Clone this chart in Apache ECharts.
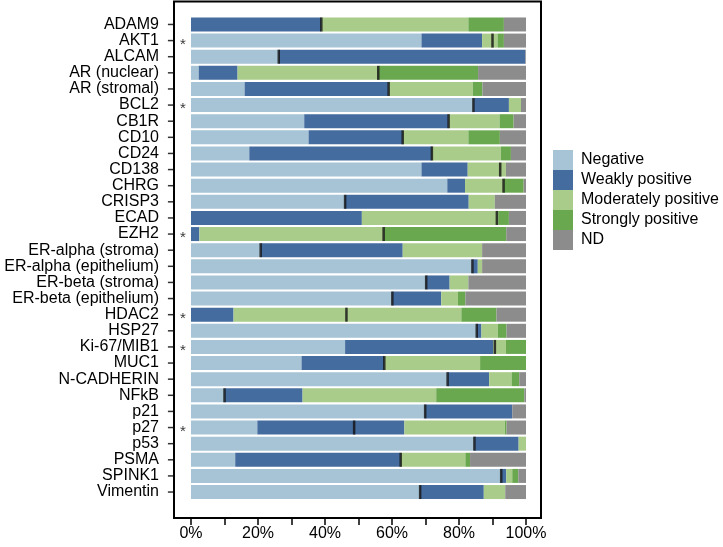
<!DOCTYPE html>
<html>
<head>
<meta charset="utf-8">
<script src="https://cdn.jsdelivr.net/npm/echarts@6/dist/echarts.min.js"></script>
<style>html,body{margin:0;padding:0;background:#fff}#c{width:723px;height:547px}</style>
</head>
<body>
<div id="c"></div>
<script>
var categories = ['ADAM9','AKT1','ALCAM','AR (nuclear)','AR (stromal)','BCL2','CB1R','CD10','CD24','CD138','CHRG','CRISP3','ECAD','EZH2','ER-alpha (stroma)','ER-alpha (epithelium)','ER-beta (stroma)','ER-beta (epithelium)','HDAC2','HSP27','Ki-67/MIB1','MUC1','N-CADHERIN','NFkB','p21','p27','p53','PSMA','SPINK1','Vimentin'];
var negative   = [0,68.8,26.2,2.3,16.0,84.3,33.8,35.1,17.4,68.8,76.5,46.0,0,0,20.8,84.0,70.2,60.1,0,85.3,46.0,33.0,76.6,10.0,69.9,19.8,84.6,13.2,92.6,68.4];
var weakly     = [38.9,18.1,73.6,11.6,43.0,10.6,43.1,28.1,54.5,13.8,5.3,36.9,51.0,2.5,42.4,1.6,7.0,14.6,12.7,1.4,44.2,24.7,12.4,23.3,26.0,43.9,13.2,49.4,1.5,19.0];
var moderately = [43.9,4.6,0,42.0,25.1,3.6,15.2,19.6,20.6,11.4,11.6,7.8,40.7,55.0,23.7,1.3,5.6,5.0,68.0,4.9,3.8,28.6,6.7,39.9,0,30.0,2.2,19.3,1.8,6.4];
var strongly   = [10.6,1.9,0,29.8,2.9,0,4.2,9.4,3.0,0,5.9,0,3.2,36.6,0,0,0,2.2,10.5,2.6,6.0,13.7,2.3,26.3,0,0.5,0,1.4,1.8,0];
var nd         = [6.6,6.6,0.2,14.3,13.0,1.5,3.7,7.8,4.5,6.0,0.7,9.3,5.1,5.9,13.1,13.1,17.2,18.1,8.8,5.8,0,0,2.0,0.5,4.1,5.8,0,16.7,2.3,6.2];
var markers    = [38.9,90.0,26.2,55.9,59.0,84.3,76.9,63.2,71.9,92.3,93.3,46.0,91.3,57.5,20.8,84.0,70.2,60.1,46.4,85.3,90.7,57.7,76.6,10.0,69.9,48.7,84.6,62.6,92.6,68.4];
var starred    = ['AKT1','BCL2','EZH2','HDAC2','Ki-67/MIB1','p27'];
var seriesNames = ['Negative','Weakly positive','Moderately positive','Strongly positive','ND'];
var seriesValues = [negative, weakly, moderately, strongly, nd];
var colors = ['#a6c4d5','#456c9f','#a9cc8a','#6aa84f','#8c8c8c'];

var font = 'Liberation Sans, Arial, Helvetica, sans-serif';
var chart = echarts.init(document.getElementById('c'));
var series = seriesNames.map(function (n, i) {
  return {
    name: n, type: 'bar', stack: 'total', barWidth: 14,
    itemStyle: { color: colors[i] },
    data: seriesValues[i], silent: true
  };
});
series.push({
  name: 'marker', type: 'scatter', symbol: 'rect', symbolSize: [2.5, 14],
  itemStyle: { color: '#111' }, z: 5, silent: true,
  data: categories.map(function (c, i) { return [markers[i], c]; })
});
series.push({
  name: 'star', type: 'scatter', symbolSize: 1, clip: false, itemStyle: { color: 'rgba(0,0,0,0)' }, z: 5, silent: true,
  label: { show: true, position: 'inside', formatter: '*', fontSize: 15, color: '#000', fontFamily: font, offset: [0, 4] },
  data: starred.map(function (c) { return [-2.4, c]; })
});
// y-axis tick marks just outside the left frame, placed through the axis scales
series.push({
  name: 'ytick', type: 'scatter', symbol: 'rect', symbolSize: [6, 1.5], clip: false,
  itemStyle: { color: '#000' }, z: 11, silent: true,
  data: categories.map(function (c) { return [-6.0, c]; })
});
chart.setOption({
  animation: false,
  textStyle: { fontFamily: font },
  grid: { left: 191, right: 197, top: 16.4, bottom: 46.9 },
  legend: {
    data: seriesNames, orient: 'vertical', left: 548, top: 145,
    itemWidth: 20, itemHeight: 20, itemGap: 0, icon: 'rect',
    textStyle: { fontSize: 16, color: '#000', fontFamily: font, padding: [0, 0, 0, 3] }
  },
  xAxis: {
    type: 'value', min: 0, max: 100, interval: 10, offset: 17.9,
    axisLine: { show: false },
    splitLine: { show: false },
    axisTick: { show: true, length: 7, lineStyle: { color: '#000', width: 1.5 } },
    axisLabel: { fontSize: 16, color: '#000', margin: 8, showMinLabel: true, showMaxLabel: true,
      formatter: function (v) { return v % 20 === 0 ? v + '%' : ''; } }
  },
  yAxis: {
    type: 'category', data: categories, inverse: true, offset: 17,
    axisLine: { show: false, onZero: false },
    axisTick: { show: false },
    axisLabel: { fontSize: 16, color: '#000', margin: 15, interval: 0 }
  },
  graphic: [{
    type: 'rect', silent: true, z: 10,
    shape: { x: 174, y: 1.5, width: 367, height: 516.5 },
    style: { fill: null, stroke: '#000', lineWidth: 2 }
  }],
  series: series
});
</script>
</body>
</html>
